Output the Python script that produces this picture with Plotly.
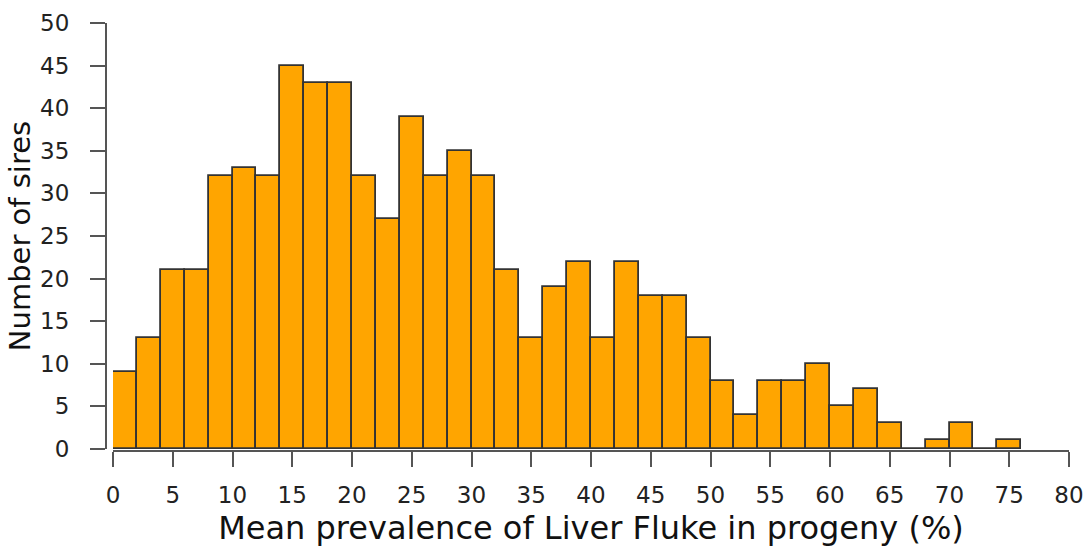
import plotly.graph_objects as go

# Histogram data: bin edges (width 2) and counts
bin_starts = [0, 2, 4, 6, 8, 10, 12, 14, 16, 18, 20, 22, 24, 26, 28, 30, 32, 34, 36,
              38, 40, 42, 44, 46, 48, 50, 52, 54, 56, 58, 60, 62, 64, 66, 68, 70, 72, 74]
bin_width = 2
counts = [9, 13, 21, 21, 32, 33, 32, 45, 43, 43, 32, 27, 39, 32, 35, 32, 21, 13, 19,
          22, 13, 22, 18, 18, 13, 8, 4, 8, 8, 10, 5, 7, 3, 0, 1, 3, 0, 1]

x_ticks = [0, 5, 10, 15, 20, 25, 30, 35, 40, 45, 50, 55, 60, 65, 70, 75, 80]
y_ticks = [0, 5, 10, 15, 20, 25, 30, 35, 40, 45, 50]

x_title = "Mean prevalence of Liver Fluke in progeny (%)"
y_title = "Number of sires"

centers = [s + bin_width / 2 for s in bin_starts]

W, H = 1089, 547
L, R, T, B = 106, 20, 23, 96
pw = W - L - R
ph = H - T - B

fig = go.Figure(
    go.Bar(
        x=centers,
        y=counts,
        width=bin_width,
        marker=dict(color="#FFA500", line=dict(color="#333333", width=1.8)),
        hoverinfo="x+y",
    )
)

FONT = "DejaVu Sans"
fig.update_layout(
    width=W,
    height=H,
    margin=dict(l=L, r=R, t=T, b=B, autoexpand=False),
    plot_bgcolor="white",
    paper_bgcolor="white",
    showlegend=False,
    bargap=0,
    font=dict(family=FONT, color="#222222"),
    xaxis=dict(
        range=[0, 80],
        domain=[7 / pw, 1],
        anchor="free",
        position=0,
        automargin=False,
        tickmode="array",
        tickvals=x_ticks,
        ticktext=[str(v) for v in x_ticks],
        ticks="outside",
        ticklen=15,
        tickwidth=2,
        tickcolor="#555555",
        ticklabelstandoff=8,
        showline=True,
        linecolor="#555555",
        linewidth=2,
        showgrid=False,
        zeroline=False,
        tickfont=dict(size=23, family=FONT, color="#222222"),
        title=dict(text=x_title, font=dict(size=32, family=FONT, color="#111111"), standoff=18),
    ),
    yaxis=dict(
        range=[0, 50],
        domain=[2 / ph, 1],
        anchor="free",
        position=0,
        automargin=False,
        tickmode="array",
        tickvals=y_ticks,
        ticktext=[str(v) for v in y_ticks],
        ticks="outside",
        ticklen=15,
        tickwidth=2,
        tickcolor="#555555",
        ticklabelstandoff=16,
        showline=True,
        linecolor="#555555",
        linewidth=2,
        showgrid=False,
        zeroline=False,
        tickfont=dict(size=23, family=FONT, color="#222222"),
        title=dict(text=y_title, font=dict(size=29, family=FONT, color="#111111"), standoff=0),
    ),
)

fig.write_html("out.html")
